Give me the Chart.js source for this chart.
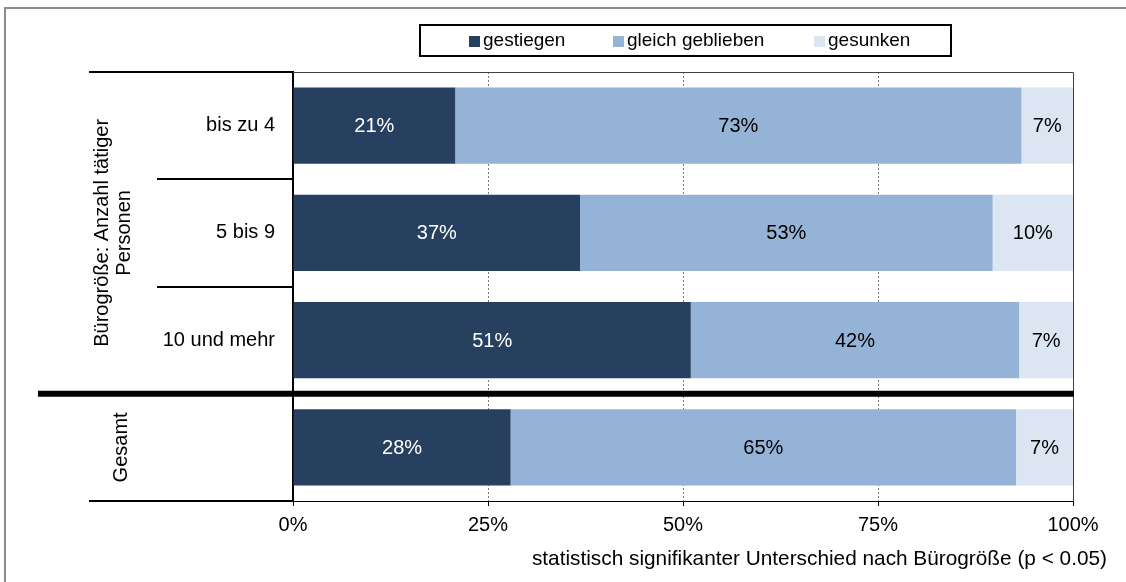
<!DOCTYPE html>
<html>
<head>
<meta charset="utf-8">
<script src="https://cdn.jsdelivr.net/npm/chart.js@4"></script>
<style>
  html, body { margin: 0; padding: 0; background: #fff; }
  #wrap { width: 1126px; height: 582px; }
</style>
</head>
<body>
<div id="wrap"><canvas id="myChart" width="1126" height="582"></canvas></div>
<script>
// data
const categories = ['bis zu 4', '5 bis 9', '10 und mehr', 'Gesamt'];
const gestiegen = [20.8, 36.8, 51.0, 27.9];
const gleichGeblieben = [72.6, 52.9, 42.1, 64.8];
const gesunken = [6.6, 10.3, 6.9, 7.3];
const seriesNames = ['gestiegen', 'gleich geblieben', 'gesunken'];
const xTicks = [0, 25, 50, 75, 100];
const groupLabel = ['Bürogröße: Anzahl tätiger', 'Personen'];
const footnote = 'statistisch signifikanter Unterschied nach Bürogröße (p < 0.05)';

const colors = ['#27405f', '#95b3d7', '#dce6f2'];
const labelColors = ['#ffffff', '#000000', '#000000'];
const FONT = '"Liberation Sans", Arial, sans-serif';

const extras = {
    id: 'extras',
    afterDraw(chart) {
        const ctx = chart.ctx;
        const area = chart.chartArea;
        const y = chart.scales.y;
        ctx.save();

        // outer frame
        ctx.strokeStyle = '#8c8c8c';
        ctx.lineWidth = 2;
        ctx.beginPath();
        ctx.moveTo(5, 582);
        ctx.lineTo(5, 8);
        ctx.lineTo(1126, 8);
        ctx.stroke();

        // top and right border of plot area
        ctx.strokeStyle = '#404040';
        ctx.lineWidth = 1;
        ctx.beginPath();
        ctx.moveTo(area.left, area.top + 0.5);
        ctx.lineTo(area.right + 0.5, area.top + 0.5);
        ctx.lineTo(area.right + 0.5, area.bottom);
        ctx.stroke();

        // category separators on the left
        const half = (y.getPixelForValue(1) - y.getPixelForValue(0)) / 2;
        ctx.strokeStyle = '#000';
        ctx.lineWidth = 2;
        ctx.beginPath();
        ctx.moveTo(89, area.top); ctx.lineTo(area.left, area.top);
        ctx.moveTo(89, area.bottom); ctx.lineTo(area.left, area.bottom);
        for (let i = 0; i < 2; i++) {
            const yy = Math.round(y.getPixelForValue(i) + half);
            ctx.moveTo(157, yy); ctx.lineTo(area.left, yy);
        }
        ctx.stroke();

        // thick separator before Gesamt
        const sep = y.getPixelForValue(2) + half;
        ctx.lineWidth = 6;
        ctx.beginPath();
        ctx.moveTo(38, sep);
        ctx.lineTo(area.right + 1, sep);
        ctx.stroke();

        // rotated group labels
        ctx.fillStyle = '#000';
        ctx.font = '20px ' + FONT;
        ctx.textAlign = 'center';
        ctx.textBaseline = 'middle';
        ctx.save();
        ctx.translate(113, (area.top + sep) / 2);
        ctx.rotate(-Math.PI / 2);
        ctx.fillText(groupLabel[0], 0, -11);
        ctx.fillText(groupLabel[1], 0, 11);
        ctx.restore();
        ctx.save();
        ctx.translate(121, (sep + area.bottom) / 2);
        ctx.rotate(-Math.PI / 2);
        ctx.fillText(categories[3], 0, 0);
        ctx.restore();

        // value labels
        chart.data.datasets.forEach((ds, di) => {
            const meta = chart.getDatasetMeta(di);
            meta.data.forEach((bar, i) => {
                const left = Math.min(bar.x, bar.base);
                const right = Math.max(bar.x, bar.base);
                ctx.fillStyle = labelColors[di];
                ctx.textAlign = 'center';
                ctx.fillText(Math.round(ds.data[i]) + '%', (left + right) / 2, bar.y + 1);
            });
        });

        // footnote
        ctx.fillStyle = '#000';
        ctx.font = '20.8px ' + FONT;
        ctx.textAlign = 'right';
        ctx.fillText(footnote, 1107, 559);

        // legend
        ctx.strokeStyle = '#000';
        ctx.lineWidth = 2;
        ctx.strokeRect(420, 25, 531, 31);
        ctx.font = '19px ' + FONT;
        const legendX = [469, 613, 814];
        seriesNames.forEach((name, i) => {
            ctx.fillStyle = colors[i];
            ctx.fillRect(legendX[i], 36, 11, 11);
            ctx.fillStyle = '#000';
            ctx.textAlign = 'left';
            ctx.fillText(name, legendX[i] + 14, 41);
        });
        ctx.restore();
    }
};

const ctx = document.getElementById('myChart').getContext('2d');
const myChart = new Chart(ctx, {
    type: 'bar',
    data: {
        labels: categories,
        datasets: [
            { label: seriesNames[0], data: gestiegen, backgroundColor: colors[0] },
            { label: seriesNames[1], data: gleichGeblieben, backgroundColor: colors[1] },
            { label: seriesNames[2], data: gesunken, backgroundColor: colors[2] }
        ]
    },
    options: {
        indexAxis: 'y',
        responsive: false,
        animation: false,
        layout: { padding: { left: 0, right: 53, top: 72, bottom: 41 } },
        datasets: {
            bar: { barPercentage: 0.71, categoryPercentage: 1, borderWidth: 0 }
        },
        plugins: {
            legend: { display: false },
            tooltip: { enabled: false }
        },
        scales: {
            x: {
                stacked: true,
                min: 0,
                max: 100,
                afterBuildTicks: (scale) => { scale.ticks = xTicks.map(v => ({ value: v })); },
                afterFit: (scale) => { scale.height = 40; },
                ticks: {
                    color: '#000',
                    font: { family: FONT, size: 20 },
                    padding: 7,
                    maxRotation: 0,
                    callback: (v) => v + '%'
                },
                grid: {
                    color: (c) => (c.tick && (c.tick.value === 0 || c.tick.value === 100)) ? 'rgba(0,0,0,0)' : '#7a7a7a',
                    lineWidth: 1,
                    tickLength: 5,
                    tickColor: '#000',
                    tickBorderDash: []
                },
                border: { display: true, color: '#000', width: 1, dash: [2, 2] }
            },
            y: {
                stacked: true,
                afterFit: (scale) => { scale.width = 293; },
                ticks: {
                    color: '#000',
                    font: { family: FONT, size: 20 },
                    padding: 18,
                    callback: (v, i) => i === 3 ? '' : categories[i]
                },
                grid: { display: false, drawTicks: false },
                border: { display: true, color: '#000', width: 2 }
            }
        }
    },
    plugins: [extras]
});
</script>
</body>
</html>
